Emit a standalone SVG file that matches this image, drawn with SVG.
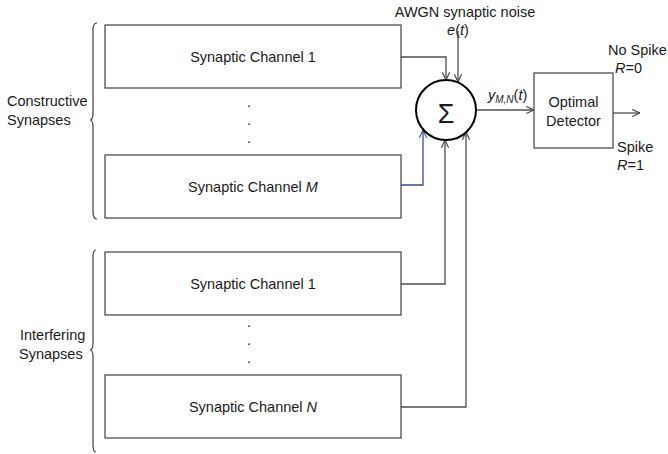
<svg xmlns="http://www.w3.org/2000/svg" width="668" height="454" viewBox="0 0 668 454">
<defs>
<style>
text{font-family:"Liberation Sans",Arial,sans-serif;font-size:14.5px;fill:#1a1a1a}
.box{fill:#fff;stroke:#404040;stroke-width:1.2}
.c{text-anchor:middle}
.ln{fill:none;stroke:#505050;stroke-width:1.3}
.blue{stroke:#3d4a8a}
.brace{fill:none;stroke:#404040;stroke-width:1.2}
.i{font-style:italic}
</style>
<marker id="ah" viewBox="0 0 10 10" refX="9.5" refY="5" markerWidth="9" markerHeight="9" markerUnits="userSpaceOnUse" orient="auto">
<path d="M1,1 L9.5,5 L1,9" fill="none" stroke="#404040" stroke-width="1.2"/>
</marker>
<marker id="ahb" viewBox="0 0 10 10" refX="9.5" refY="5" markerWidth="9" markerHeight="9" markerUnits="userSpaceOnUse" orient="auto">
<path d="M1,1 L9.5,5 L1,9" fill="none" stroke="#3d4a8a" stroke-width="1.2"/>
</marker>
</defs>
<rect width="668" height="454" fill="#fff"/>

<g id="connectors">
<path class="ln" d="M401,57 H446 V80" marker-end="url(#ah)"/>
<path class="ln" d="M458,31 V82" marker-end="url(#ah)"/>
<path class="ln blue" d="M401,185 H423 V130" marker-end="url(#ahb)"/>
<path class="ln" d="M401,284 H445 V140" marker-end="url(#ah)"/>
<path class="ln" d="M401,407 H466 V132" marker-end="url(#ah)"/>
<path class="ln" d="M476,110 H534" marker-end="url(#ah)"/>
<path class="ln" d="M613,113 H640" marker-end="url(#ah)"/>
</g>

<g id="ch1">
<rect class="box" x="105" y="25" width="296" height="63"/>
<text class="c" x="253" y="62">Synaptic Channel 1</text>
</g>
<g id="dots1">
<text class="c" x="249" y="107">.</text>
<text class="c" x="249" y="125">.</text>
<text class="c" x="249" y="143">.</text>
</g>
<g id="chM">
<rect class="box" x="105" y="155" width="296" height="63"/>
<text class="c" x="253" y="192">Synaptic Channel <tspan class="i">M</tspan></text>
</g>
<g id="ch1b">
<rect class="box" x="105" y="252" width="296" height="63"/>
<text class="c" x="253" y="289">Synaptic Channel 1</text>
</g>
<g id="dots2">
<text class="c" x="249" y="327">.</text>
<text class="c" x="249" y="345">.</text>
<text class="c" x="249" y="363">.</text>
</g>
<g id="chN">
<rect class="box" x="105" y="375" width="296" height="63"/>
<text class="c" x="253" y="412">Synaptic Channel <tspan class="i">N</tspan></text>
</g>

<g id="constructive">
<path class="brace" d="M97,23 Q93,23 93,30 V113 Q93,120 90,120 Q93,120 93,127 V212 Q93,219 97,219"/>
<text x="7" y="106">Constructive</text>
<text x="7" y="125">Synapses</text>
</g>
<g id="interfering">
<path class="brace" d="M96,250 Q93,250 93,257 V343 Q93,350 90,350 Q93,350 93,357 V445 Q93,452 96,452"/>
<text x="20" y="340">Interfering</text>
<text x="19" y="359">Synapses</text>
</g>

<g id="noise">
<text class="c" x="465" y="17">AWGN synaptic noise</text>
<text class="c" x="458" y="35"><tspan class="i">e</tspan>(<tspan class="i">t</tspan>)</text>
</g>

<g id="sum">
<circle cx="446" cy="110" r="30" fill="#fff" stroke="#000" stroke-width="2"/>
<text class="c" x="446" y="123" style="font-size:27px">Σ</text>
</g>

<g id="ylabel">
<text x="488" y="100"><tspan class="i">y</tspan><tspan class="i" style="font-size:10px" dy="3">M,N</tspan><tspan dy="-3">(</tspan><tspan class="i">t</tspan>)</text>
</g>

<g id="detector">
<rect class="box" x="534" y="73" width="79" height="75"/>
<text class="c" x="573.5" y="107">Optimal</text>
<text class="c" x="573.5" y="126">Detector</text>
</g>

<g id="outputs">
<text x="608" y="55">No Spike</text>
<text x="615" y="73"><tspan class="i">R</tspan>=0</text>
<text x="617" y="152">Spike</text>
<text x="617" y="170"><tspan class="i">R</tspan>=1</text>
</g>
</svg>
